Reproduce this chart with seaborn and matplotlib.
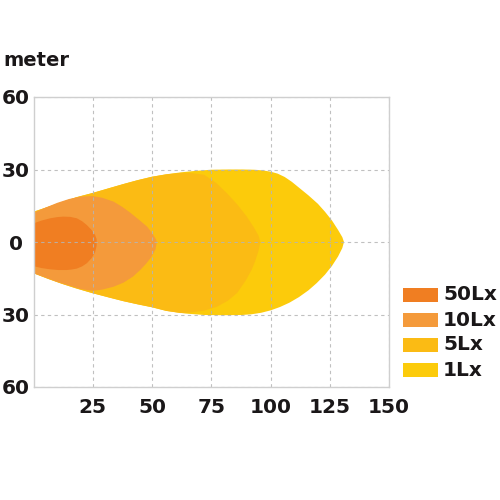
import matplotlib
matplotlib.use("Agg")
import matplotlib.pyplot as plt
import seaborn as sns
from matplotlib.patches import Rectangle

# ---- data ----
levels = ["50Lx", "10Lx", "5Lx", "1Lx"]
colors = ["#F07E22", "#F49A3B", "#FBBB14", "#FCCB0B"]

x_1lx = [0, 6, 12, 18, 25, 32, 38, 44, 50, 56, 62, 68, 75, 82, 88, 93, 97, 100, 103, 106,
         109, 112, 116, 120, 123, 126, 128.5, 130.3, 131,
         130.3, 128.5, 126, 123, 119.5, 116, 112, 108, 104, 100, 96, 92, 88, 80, 72, 64, 56,
         50, 44, 38, 32, 25, 18, 12, 6, 0]
y_1lx = [12.5, 14.5, 16.5, 18.5, 20.3, 22.3, 24, 25.6, 27, 28, 28.8, 29.4, 29.9, 30, 30,
         29.9, 29.6, 29.1, 28.3, 26.9, 24.9, 22.5, 19.3, 15.8, 12.5, 8.8, 5, 2, 0,
         -2.5, -6, -9.8, -13.5, -17, -20, -22.8, -25.1, -26.9, -28.3, -29.3, -29.9, -30.2,
         -30.3, -30.2, -29.6, -28.5, -27, -25.8, -24.5, -23, -21.2, -19.2, -17.3, -15.2, -12.9]

x_5lx = [0, 6, 12, 18, 25, 32, 38, 44, 50, 56, 62, 66, 72, 77, 81.6, 86, 90, 93, 95, 95.7,
         95, 93.5, 92, 89.5, 86, 82, 77.4, 72, 66, 62, 56, 50, 44, 38, 32, 25, 18, 12, 6, 0]
y_5lx = [12.5, 14.5, 16.5, 18.5, 20.3, 22.3, 24, 25.6, 27, 28, 28.6, 28.6, 27.8, 24.5, 20.2,
         15.5, 10.5, 6, 2.5, 0, -3.5, -8, -11.6, -16, -21, -24.3, -26.8, -28.4, -29.2, -29.4,
         -28.5, -27, -25.8, -24.5, -23, -21.2, -19.2, -17.3, -15.2, -12.9]

x_10lx = [0, 5, 10, 15, 20, 25, 29, 33.8, 37.5, 41, 44.5, 48, 50.3, 51.6, 52,
          51.5, 49.5, 47.5, 45, 42, 38, 33.8, 29, 25, 20, 15, 10, 5, 0]
y_10lx = [12, 14.2, 16.2, 17.8, 18.8, 19, 18.3, 16.7, 14.5, 12, 9.2, 6.3, 3.3, 1.2, 0,
          -3, -6.5, -9, -11.6, -14.3, -16.8, -18.5, -19.7, -20.2, -19.5, -18, -16.5, -14.7, -12.9]

x_50lx = [0, 3.5, 7, 10, 12.5, 15.5, 18.3, 20.5, 22.5, 24.5, 26, 26.6, 26.7,
          26.6, 26, 24.5, 22.5, 20.5, 18.3, 16, 14, 10.5, 7, 3.5, 0]
y_50lx = [7.7, 8.9, 9.8, 10.3, 10.5, 10.4, 9.8, 8.6, 7, 5, 2.9, 1.3, 0,
          -1.8, -4.2, -6.7, -8.8, -10.1, -11, -11.4, -11.6, -11.6, -11.3, -10.8, -10]

x_ticks = [25, 50, 75, 100, 125, 150]
x_ticklabels = ["25", "50", "75", "100", "125", "150"]
y_ticks = [-60, -30, 0, 30, 60]
y_ticklabels = ["60", "30", "0", "30", "60"]

# ---- styling ----
sns.set_style("white")
plt.rcParams["font.family"] = ["DejaVu Sans"]
TXT = "#1A1718"

fig = plt.figure(figsize=(5, 5), dpi=100)
ax = fig.add_axes([0.067, 0.226, 0.711, 0.580])

shapes = {"1Lx": (x_1lx, y_1lx), "5Lx": (x_5lx, y_5lx),
          "10Lx": (x_10lx, y_10lx), "50Lx": (x_50lx, y_50lx)}
for name in ["1Lx", "5Lx", "10Lx", "50Lx"]:
    xs, ys = shapes[name]
    ax.fill(xs, ys, color=colors[levels.index(name)], lw=0, zorder=1, antialiased=True)

ax.set_xlim(0, 150)
ax.set_ylim(-60, 60)
ax.set_xticks(x_ticks)
ax.set_xticklabels(x_ticklabels, fontsize=14.5, fontweight="bold", color=TXT)
ax.set_yticks(y_ticks)
ax.set_yticklabels(y_ticklabels, fontsize=14.5, fontweight="bold", color=TXT)
for lab in ax.get_yticklabels():
    lab.set_ha("center")
ax.tick_params(axis="y", length=0, pad=12.5)
ax.tick_params(axis="x", length=0, pad=8)

ax.set_axisbelow(False)
ax.grid(True, color="#B5B5B5", linestyle=(0, (3, 3)), linewidth=0.8, alpha=0.85, zorder=2)
for s in ax.spines.values():
    s.set_color("#CFCFCF")
    s.set_linewidth(1.0)
    s.set_zorder(3)

fig.text(3 / 500, 1 - 60 / 500, "meter", fontsize=14, fontweight="bold",
         color=TXT, ha="left", va="center")

# legend (manual)
row_y = [295, 320, 345, 370]
for lvl, col, yy in zip(levels, colors, row_y):
    fig.add_artist(Rectangle((403 / 500, 1 - (yy + 7) / 500), 35 / 500, 14 / 500,
                             transform=fig.transFigure, facecolor=col, edgecolor="none"))
    fig.text(443 / 500, 1 - yy / 500, lvl, fontsize=14.5, fontweight="bold",
             color=TXT, ha="left", va="center")

fig.savefig("out.png", dpi=100, facecolor="white")
